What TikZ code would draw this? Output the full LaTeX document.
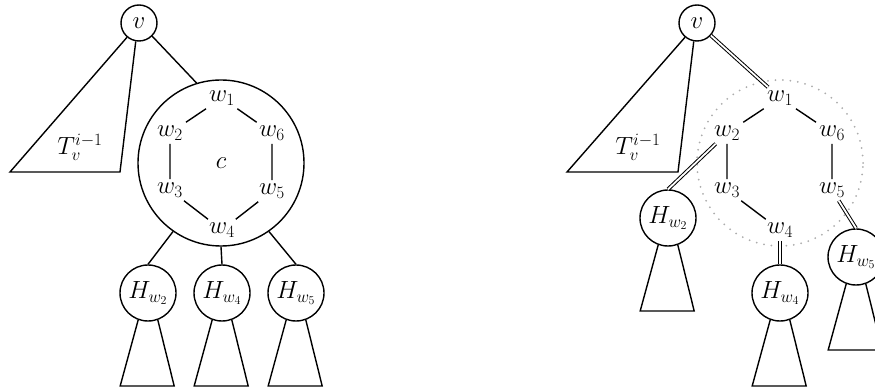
\documentclass[tikz,border=0pt]{standalone}
\usepackage{amsmath, amssymb}
\usepackage{tikz}

\begin{document}
\begin{tikzpicture}[
    x=1pt, y=-1pt,
    every node/.style={font=\fontsize{23}{27}\selectfont},
    edge/.style={line width=1.4pt},
    dbl/.style={double, line width=1pt, double distance=1.8pt},
    vert/.style={draw, circle, line width=1.4pt, minimum size=36pt, inner sep=0pt},
    hnode/.style={draw, circle, line width=1.4pt, minimum size=56pt, inner sep=0pt},
    cyc/.style={circle, minimum size=166pt, inner sep=0pt},
    dotcyc/.style={cyc, draw=gray!65, line width=2pt, line cap=round, dash pattern=on 0pt off 7.5pt}
]
\useasboundingbox (0,0) rectangle (875,387);

% --- Left: cycle c contracted into one node ---
\node[vert] (v) at (139,23) {$v$};
\node (T) at (80,147) {$T_v^{i-1}$};
\node[cyc, draw, line width=1.4pt] (cyc) at (221,163) {$c$};
\node (w1) at (222,98)  {$w_1$};
\node (w2) at (170,133) {$w_2$};
\node (w3) at (170,190) {$w_3$};
\node (w4) at (222,230) {$w_4$};
\node (w5) at (272,191) {$w_5$};
\node (w6) at (272,133) {$w_6$};
\node[hnode] (H2) at (148,293) {$H_{w_2}$};
\node[hnode] (H4) at (222,293) {$H_{w_4}$};
\node[hnode] (H5) at (296,293) {$H_{w_5}$};

\draw[edge, line join=miter] (v.230) -- (10,172) -- (120,172) -- (v.260);
\draw[edge] (v.-45) -- (cyc.107);
\draw[edge] (w1) -- (w2) -- (w3) -- (w4) -- (w5) -- (w6) -- (w1);
\draw[edge] (cyc.235) -- (H2.north);
\draw[edge] (cyc.270) -- (H4.north);
\draw[edge] (cyc.305) -- (H5.north);

% --- Right: cycle opened up ---
\node[vert] (vR) at (697,23) {$v$};
\node (TR) at (638,147) {$T_v^{i-1}$};
\node[dotcyc] (cycR) at (780,163) {};
\node (w1R) at (780,98)  {$w_1$};
\node (w2R) at (727,133) {$w_2$};
\node (w3R) at (727,190) {$w_3$};
\node (w4R) at (780,230) {$w_4$};
\node (w5R) at (832,190) {$w_5$};
\node (w6R) at (832,133) {$w_6$};
\node[hnode] (H2R) at (668,218) {$H_{w_2}$};
\node[hnode] (H4R) at (780,293) {$H_{w_4}$};
\node[hnode] (H5R) at (856,257) {$H_{w_5}$};

\draw[edge, line join=miter] (vR.230) -- (567,172) -- (678,172) -- (vR.260);
\draw[edge] (w2R) -- (w1R) -- (w6R) -- (w5R);
\draw[edge] (w2R) -- (w3R) -- (w4R);
\draw[dbl] (vR) -- (w1R);
\draw[dbl] (w2R) -- (H2R.north);
\draw[dbl] (w4R) -- (H4R.north);
\draw[dbl] (w5R) -- (H5R.north);

% subtrees hanging below the H nodes
\foreach \h in {H2, H4, H5, H2R, H4R, H5R}
  \draw[edge, line join=miter] (\h.250) -- ++(-18,66) -- ++(54,0) -- (\h.290);

\end{tikzpicture}
\end{document}
